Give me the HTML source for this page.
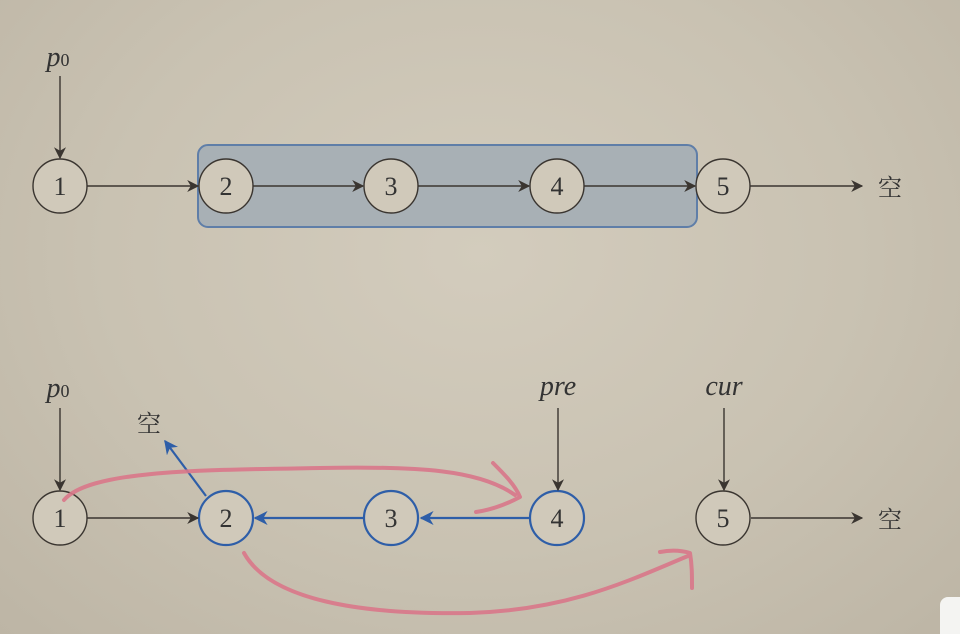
<!DOCTYPE html>
<html><head><meta charset="utf-8"><style>
html,body{margin:0;padding:0;width:960px;height:634px;overflow:hidden}
body{background:radial-gradient(ellipse at 50% 40%,#d3ccbd 0%,#c9c2b2 55%,#bdb5a5 100%)}
text{font-family:"Liberation Serif","Noto Serif CJK SC",serif;fill:#333}
</style></head><body>
<svg width="960" height="634" viewBox="0 0 960 634" xmlns="http://www.w3.org/2000/svg">
<defs>
<marker id="a" viewBox="0 0 10 10" refX="9" refY="5" markerWidth="12" markerHeight="12" markerUnits="userSpaceOnUse" orient="auto"><path d="M0,0 L10,5 L0,10 L3,5z" fill="#3a3530"/></marker>
<marker id="b" viewBox="0 0 10 10" refX="9" refY="5" markerWidth="14" markerHeight="14" markerUnits="userSpaceOnUse" orient="auto"><path d="M0,0 L10,5 L0,10 L3,5z" fill="#2e5ea8"/></marker>
</defs>
<rect x="198" y="145" width="499" height="82" rx="10" fill="#a8b0b5" stroke="#5f7ea8" stroke-width="2"/>
<g stroke-width="1.4" fill="#d0c9ba" stroke="#3a3530">
<circle cx="60" cy="186" r="27"/><circle cx="226" cy="186" r="27"/><circle cx="391" cy="186" r="27"/><circle cx="557" cy="186" r="27"/><circle cx="723" cy="186" r="27"/>
<circle cx="60" cy="518" r="27"/><circle cx="723" cy="518" r="27"/>
</g>
<g stroke-width="2.2" fill="#d0c9ba" stroke="#2e5ea8">
<circle cx="226" cy="518" r="27"/><circle cx="391" cy="518" r="27"/><circle cx="557" cy="518" r="27"/>
</g>
<g fill="none" stroke="#3a3530" stroke-width="1.4">
<line x1="60" y1="76" x2="60" y2="158" marker-end="url(#a)"/>
<line x1="87" y1="186" x2="198" y2="186" marker-end="url(#a)"/>
<line x1="253" y1="186" x2="363" y2="186" marker-end="url(#a)"/>
<line x1="418" y1="186" x2="529" y2="186" marker-end="url(#a)"/>
<line x1="584" y1="186" x2="695" y2="186" marker-end="url(#a)"/>
<line x1="750" y1="186" x2="862" y2="186" marker-end="url(#a)"/>
<line x1="60" y1="408" x2="60" y2="490" marker-end="url(#a)"/>
<line x1="87" y1="518" x2="198" y2="518" marker-end="url(#a)"/>
<line x1="558" y1="408" x2="558" y2="490" marker-end="url(#a)"/>
<line x1="724" y1="408" x2="724" y2="490" marker-end="url(#a)"/>
<line x1="751" y1="518" x2="862" y2="518" marker-end="url(#a)"/>
</g>
<g fill="none" stroke="#2e5ea8" stroke-width="2.2">
<line x1="530" y1="518" x2="421" y2="518" marker-end="url(#b)"/>
<line x1="364" y1="518" x2="255" y2="518" marker-end="url(#b)"/>
<line x1="206" y1="496" x2="165" y2="441" marker-end="url(#b)"/>
</g>
<g font-size="26" text-anchor="middle">
<text x="60" y="195">1</text><text x="226" y="195">2</text><text x="391" y="195">3</text><text x="557" y="195">4</text><text x="723" y="195">5</text>
<text x="60" y="527">1</text><text x="226" y="527">2</text><text x="391" y="527">3</text><text x="557" y="527">4</text><text x="723" y="527">5</text>
</g>
<g font-size="24" text-anchor="middle">
<text x="890" y="196">空</text><text x="890" y="528">空</text><text x="149" y="432">空</text>
</g>
<g font-size="28" font-style="italic" text-anchor="middle">
<text x="58" y="66">p<tspan font-size="18" font-style="normal">0</tspan></text>
<text x="58" y="397">p<tspan font-size="18" font-style="normal">0</tspan></text>
<text x="558" y="395">pre</text>
<text x="724" y="395">cur</text>
</g>
<g fill="none" stroke="#d9778a" stroke-width="4" stroke-linecap="round" stroke-linejoin="round" opacity="0.9">
<path d="M64,500 C90,470 200,470 320,468 C420,466 480,470 515,495"/>
<path d="M493,463 C505,475 515,485 520,497 C505,505 490,510 476,512"/>
<path d="M244,553 C270,600 360,615 470,613 C570,610 630,580 688,556"/>
<path d="M660,552 C670,550 680,550 690,553 C692,565 692,575 692,588"/>
</g>
<rect x="940" y="597" width="30" height="50" rx="8" fill="#f4f4f2"/>
</svg>
</body></html>
